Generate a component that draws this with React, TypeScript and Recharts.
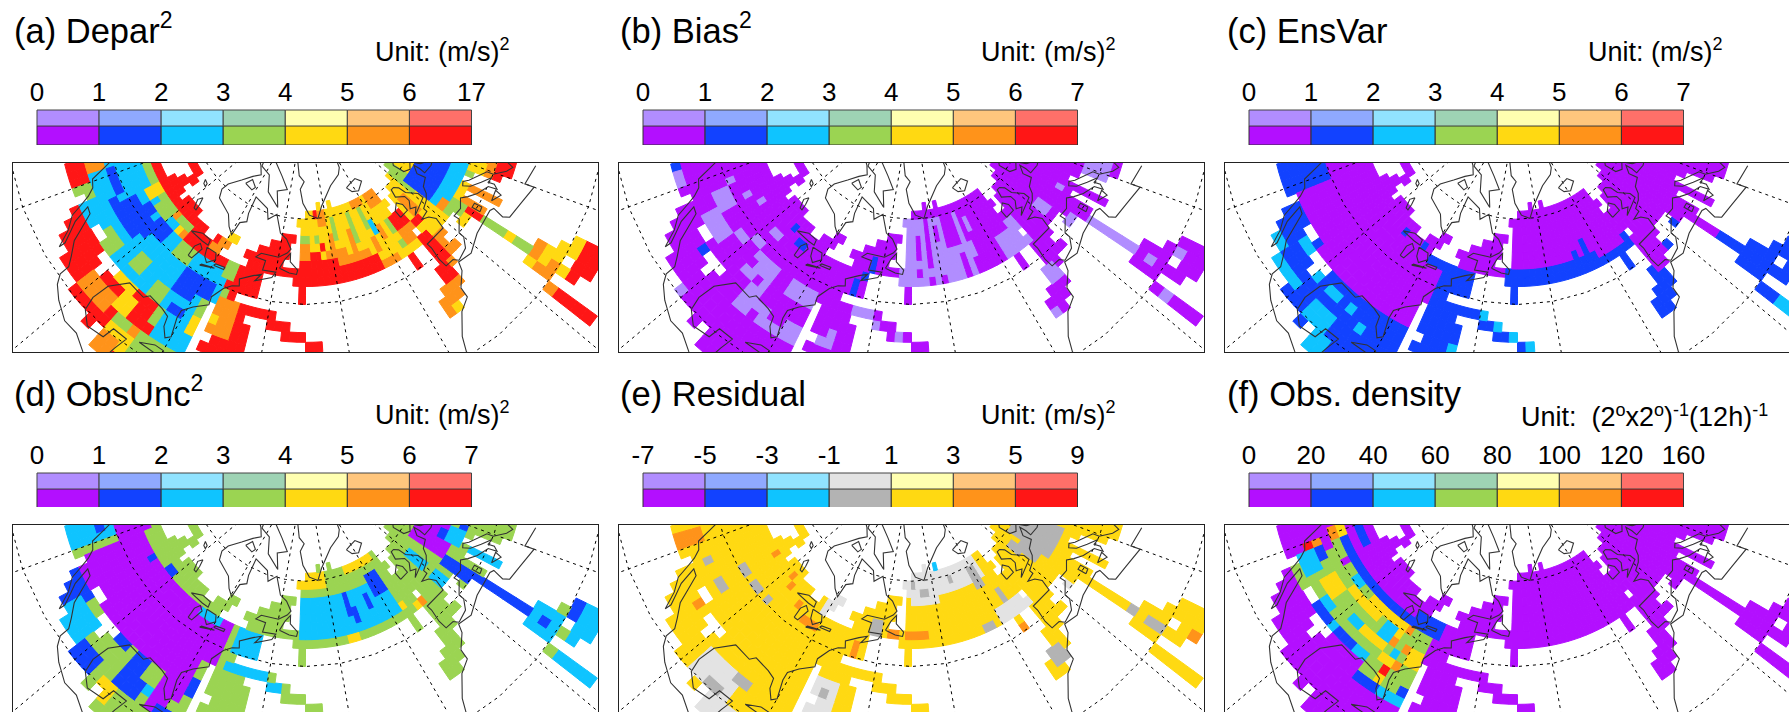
import React from 'react';
import { BarChart, Bar, XAxis, YAxis, ScatterChart, Scatter } from 'recharts';

const DARK = ['#b30fff', '#1242ff', '#0fc4ff', '#9bd452', '#ffd912', '#ff931a', '#ff1616'];
const LIGHT = ['#b18dff', '#8fa9ff', '#91e3ff', '#9ed3b4', '#ffffb0', '#ffc67d', '#ff7069'];
// cell colours: 0-6 dark row, 7 light purple, 8 mid grey, 9 light grey
const CELL_COLORS = [...DARK, '#b18dff', '#b3b3b3', '#e3e3e3'];

const TICKS_A = ['0', '1', '2', '3', '4', '5', '6', '17'];
const TICKS_B = ['0', '1', '2', '3', '4', '5', '6', '7'];
const TICKS_E = ['-7', '-5', '-3', '-1', '1', '3', '5', '9'];
const TICKS_F = ['0', '20', '40', '60', '80', '100', '120', '160'];

// observed cells: [south lat, [[west lon, east lon], ...]] on the 2 degree grid
const OBS_ROWS: [number, number[][]][] = [
  [10, [[2, 4]]],
  [12, [[2, 4]]],
  [14, [[2, 4], [8, 14]]],
  [16, [[-92, -76], [2, 4], [6, 14]]],
  [18, [[-96, -76], [2, 4], [6, 14]]],
  [20, [[-102, -76], [4, 12]]],
  [22, [[-108, -76], [4, 10]]],
  [24, [[-112, -76], [4, 10]]],
  [26, [[-114, -76], [-74, -64], [6, 8]]],
  [28, [[-116, -76], [-74, -64], [-16, -12], [6, 8]]],
  [30, [[-126, -76], [-74, -64], [-50, -46], [-16, -10], [6, 8]]],
  [32, [[-126, -76], [-74, -64], [-56, -50], [-14, -8], [6, 8]]],
  [34, [[-126, -76], [-74, -66], [-60, -54], [-12, -8], [6, 8]]],
  [36, [[-126, -58], [-12, -6], [6, 8], [12, 14], [20, 26]]],
  [38, [[-126, -70], [-10, -2], [6, 10], [12, 14], [18, 26]]],
  [40, [[-126, -64], [-52, -50], [-16, -14], [-10, -4], [2, 10], [12, 14], [18, 26]]],
  [42, [[-126, -64], [-52, -50], [-16, -14], [-10, -2], [4, 10], [12, 14], [18, 26]]],
  [44, [[-126, -64], [-54, 14], [16, 30]]],
  [46, [[-126, -80], [-70, 30]]],
  [48, [[-124, -88], [-84, -78], [-72, -56], [-52, 30]]],
  [50, [[-112, -94], [-80, -76], [-68, -56], [-52, 30]]],
  [52, [[-110, -106], [-64, -56], [-52, 30]]],
  [54, [[-108, -104], [-60, -54], [-52, -12], [-8, 30]]],
  [56, [[-116, -106], [-52, -10], [-8, 30]]],
  [58, [[-54, -12], [-6, 30]]],
  [60, [[-50, -12], [-2, 30]]],
  [62, [[-44, -42], [-38, -36], [2, 30]]],
];
const OBS_HOLES = [[30, -118], [30, -110], [30, -108], [28, -104], [28, -102], [28, -100], [26, -102], [50, -104], [18, -94], [28, -74], [48, -58], [46, -10], [18, 8]];

// [south lat, north lat, west lon, east lon, colour]; later rows paint over earlier ones
const ZONES_A = [
  [0, 90, -180, 180, 6],
  [30, 48, -120, -74, 2], [34, 48, -126, -120, 2], [34, 38, -128, -122, 5], [30, 34, -120, -116, 3],
  [44, 48, -92, -74, 6], [46, 48, -120, -100, 3], [44, 46, -106, -100, 3], [44, 48, -112, -108, 4],
  [46, 48, -100, -98, 5], [44, 46, -96, -94, 4], [44, 46, -94, -92, 5], [46, 48, -98, -92, 3],
  [38, 40, -122, -114, 1], [36, 38, -114, -102, 1], [38, 42, -112, -100, 1], [40, 44, -102, -96, 1], [42, 44, -108, -104, 1],
  [36, 40, -86, -76, 1], [34, 36, -86, -80, 1], [30, 32, -84, -80, 1],
  [30, 34, -108, -102, 3], [32, 36, -98, -94, 3], [30, 34, -90, -86, 3], [40, 44, -92, -86, 3], [42, 46, -76, -72, 3], [38, 40, -74, -72, 3],
  [48, 50, -82, -78, 5], [50, 52, -80, -76, 4], [46, 48, -84, -80, 5],
  [28, 30, -98, -92, 4], [24, 28, -94, -90, 4], [22, 26, -102, -94, 5], [22, 24, -92, -86, 3], [20, 24, -88, -84, 5],
  [24, 26, -86, -82, 6], [26, 30, -86, -84, 3], [22, 30, -84, -76, 2], [16, 24, -86, -76, 3], [28, 32, -78, -76, 4], [32, 36, -78, -76, 3],
  [18, 22, -92, -86, 4], [16, 20, -92, -88, 5],
  [30, 38, -74, -68, 5], [32, 34, -74, -72, 4],
  [44, 64, -54, -10, 4], [44, 48, -54, -24, 6], [48, 52, -54, -44, 6], [48, 50, -44, -38, 6], [50, 54, -54, -48, 5], [52, 54, -44, -42, 6],
  [48, 50, -38, -26, 5], [50, 52, -42, -34, 5], [52, 56, -40, -38, 5], [50, 56, -32, -30, 5], [48, 52, -24, -22, 5], [50, 54, -20, -18, 5],
  [54, 56, -46, -44, 3], [54, 56, -52, -48, 3], [54, 60, -38, -36, 3], [52, 60, -30, -28, 3], [54, 60, -24, -22, 3], [50, 54, -16, -14, 3],
  [46, 48, -16, -12, 3], [52, 56, -22, -20, 2], [58, 62, -18, -10, 5], [60, 62, -26, -20, 5], [58, 62, -44, -40, 5], [60, 62, -46, -44, 6], [44, 46, -24, -18, 5],
  [44, 64, -10, 30, 4], [50, 54, -14, -8, 6], [46, 50, -14, -8, 5], [50, 56, -6, -2, 5], [48, 50, -8, -4, 6],
  [42, 46, -10, -6, 6], [38, 44, -6, 0, 5], [38, 40, -8, -6, 6], [36, 38, -12, -8, 6], [36, 38, -8, -2, 5],
  [30, 34, -16, -8, 5], [28, 30, -16, -14, 5], [28, 30, -14, -12, 4], [34, 36, -12, -8, 6], [40, 44, -16, -14, 6],
  [56, 64, 0, 6, 3], [54, 56, 0, 4, 3], [50, 58, 2, 18, 1], [46, 50, 2, 20, 2], [46, 48, 2, 6, 5], [42, 46, 2, 8, 3],
  [44, 46, 10, 14, 4], [44, 46, 14, 18, 3], [42, 46, 18, 22, 4], [36, 42, 18, 26, 6], [40, 42, 18, 24, 5], [36, 44, 8, 14, 5], [42, 44, 14, 18, 6],
  [38, 42, 0, 6, 4], [36, 40, 0, 4, 5],
  [26, 38, 6, 8, 3], [30, 32, 6, 8, 4], [24, 26, 6, 10, 5], [24, 26, 4, 6, 4], [22, 24, 6, 10, 4], [20, 22, 4, 8, 5], [22, 24, 4, 6, 5],
  [18, 20, 6, 8, 4], [18, 20, 10, 14, 4], [20, 22, 8, 12, 4], [18, 20, 2, 4, 5],
];
const ZONES_B = [
  [0, 90, -180, 180, 0],
  [36, 40, -116, -110, 7], [32, 36, -112, -104, 7], [36, 38, -104, -100, 7], [30, 38, -96, -88, 7], [34, 38, -84, -76, 7], [26, 30, -92, -76, 7],
  [28, 30, -84, -80, 0], [26, 28, -88, -86, 0], [32, 34, -92, -90, 0], [34, 36, -96, -94, 0], [30, 32, -96, -92, 0],
  [20, 22, -102, -100, 7], [42, 44, -98, -94, 7], [38, 40, -100, -96, 7], [40, 42, -118, -116, 7], [44, 46, -108, -106, 7], [42, 44, -112, -110, 7],
  [30, 32, -124, -120, 7], [28, 30, -72, -68, 7], [30, 32, -70, -68, 7], [36, 38, -66, -60, 7], [34, 36, -60, -58, 7], [32, 34, -54, -52, 7],
  [44, 60, -54, -36, 7], [50, 56, -48, -46, 0], [46, 48, -48, -46, 0], [44, 46, -44, -42, 0], [52, 58, -36, -32, 0],
  [48, 60, -44, -42, 0], [44, 46, -40, -38, 0], [48, 50, -36, -34, 0], [54, 58, -40, -38, 0],
  [44, 52, -36, -26, 7], [44, 50, -32, -30, 0], [44, 48, -28, -26, 0], [52, 60, -30, -28, 7], [54, 58, -26, -24, 7], [44, 50, -18, -8, 7], [50, 52, -12, -8, 7],
  [46, 50, 0, 4, 7], [40, 42, 2, 6, 7], [26, 38, 6, 8, 7], [38, 44, 18, 24, 7], [46, 48, 10, 12, 7], [34, 38, -12, -8, 7], [28, 30, -16, -14, 7], [44, 46, -12, -8, 7],
  [22, 24, 6, 8, 7], [18, 20, 10, 12, 7], [16, 18, 2, 4, 7],
  [30, 32, -126, -124, 1], [28, 30, -106, -104, 1], [46, 48, -94, -92, 1], [44, 46, -90, -86, 1], [46, 50, -64, -62, 1], [38, 44, -68, -66, 1], [44, 46, -66, -64, 1],
];
const ZONES_C = [
  [0, 90, -180, 180, 1],
  [30, 48, -104, -74, 0], [32, 48, -118, -104, 0], [40, 48, -124, -118, 0], [48, 60, -130, -88, 0],
  [46, 50, -90, -76, 0], [50, 52, -80, -76, 0], [46, 48, -92, -90, 1], [46, 48, -84, -82, 1], [44, 46, -80, -74, 1],
  [46, 56, -72, -54, 0], [48, 64, -54, -10, 0], [46, 48, -22, -12, 0], [48, 52, -26, -24, 1], [48, 50, -30, -28, 1],
  [36, 64, -10, 30, 0], [38, 40, -4, -2, 1], [40, 42, 2, 4, 1], [44, 46, -12, -10, 1], [32, 38, 6, 8, 0],
  [10, 16, 2, 4, 2], [26, 28, -96, -92, 2], [26, 28, -90, -88, 2], [24, 26, -86, -84, 2], [20, 24, -96, -90, 2], [26, 28, -102, -98, 2],
  [22, 24, -108, -104, 2], [24, 26, -112, -108, 2], [28, 30, -108, -104, 2], [22, 24, -104, -100, 2], [16, 20, -92, -88, 2],
  [36, 38, -60, -58, 2], [34, 36, -56, -54, 2], [32, 34, -52, -50, 2], [30, 32, -48, -46, 2], [28, 30, -66, -64, 2],
];
const ZONES_D = [
  [0, 90, -180, 180, 3],
  [30, 46, -118, -74, 0], [40, 48, -124, -118, 0], [26, 30, -84, -78, 0], [22, 26, -84, -80, 0], [30, 36, -78, -74, 3], [44, 46, -110, -108, 1], [46, 48, -104, -100, 1],
  [44, 46, -86, -78, 2], [30, 40, -130, -120, 2], [36, 38, -126, -122, 1],
  [24, 30, -116, -108, 1], [26, 30, -108, -106, 3], [22, 28, -110, -102, 2], [22, 26, -102, -96, 3], [20, 24, -102, -96, 1],
  [28, 30, -100, -94, 1], [26, 30, -92, -88, 1], [22, 26, -92, -86, 1], [18, 22, -94, -90, 4], [24, 26, -86, -84, 2], [22, 24, -82, -78, 1],
  [28, 32, -78, -76, 1], [36, 38, -72, -60, 2], [34, 36, -60, -56, 2], [40, 46, -72, -64, 2],
  [46, 56, -52, -16, 2], [58, 62, -54, -40, 4], [60, 62, -30, -14, 4], [52, 58, -22, -16, 1], [48, 52, -32, -30, 1], [50, 56, -34, -32, 1], [50, 54, -26, -24, 1],
  [44, 46, -36, -32, 4], [46, 48, -16, -14, 4], [44, 46, -10, -8, 5], [44, 46, -12, -10, 4],
  [48, 58, 6, 18, 0], [50, 52, 12, 16, 1], [46, 48, 16, 20, 1], [26, 48, 4, 8, 1], [36, 44, 12, 14, 2], [50, 56, -2, 2, 2], [44, 48, -2, 2, 2], [46, 50, 12, 18, 2],
  [20, 26, 4, 10, 2], [22, 24, 6, 8, 1], [18, 20, 10, 14, 1], [16, 18, 8, 10, 3], [14, 18, 6, 14, 2], [10, 18, 2, 4, 2],
];
const ZONES_E = [
  [0, 90, -180, 180, 4],
  [30, 36, -124, -120, 5], [48, 50, -108, -106, 5], [48, 50, -98, -96, 5], [46, 48, -96, -94, 5], [28, 30, -108, -106, 5], [44, 46, -90, -88, 5], [42, 44, -86, -80, 5],
  [38, 44, -68, -66, 5], [44, 46, -64, -62, 5], [44, 48, -58, -54, 5], [46, 48, -52, -44, 5], [40, 42, -16, -14, 5], [14, 16, 8, 10, 5],
  [34, 36, -116, -114, 8], [40, 42, -110, -106, 8], [34, 36, -110, -106, 8], [40, 42, -104, -100, 8], [40, 42, -98, -96, 8],
  [20, 26, -98, -88, 9], [24, 26, -90, -88, 8], [24, 26, -88, -86, 8], [20, 22, -94, -90, 8], [16, 20, -94, -84, 9],
  [26, 34, -74, -68, 9], [30, 32, -72, -70, 8], [46, 52, -82, -76, 9], [46, 50, -64, -60, 8],
  [56, 64, -54, -16, 9], [54, 56, -50, -38, 9], [58, 60, -50, -48, 8], [56, 58, -46, -42, 8], [58, 60, -32, -30, 8], [54, 60, -22, -18, 8], [62, 64, -38, -36, 2],
  [44, 48, -20, -8, 9], [48, 52, -16, -14, 8], [46, 48, -10, -8, 8], [44, 46, -26, -22, 8],
  [48, 60, 6, 18, 8], [50, 56, 2, 6, 8], [54, 58, 0, 4, 8], [40, 42, 2, 4, 9], [26, 28, 6, 8, 8], [20, 24, 6, 8, 8], [30, 34, -14, -10, 8],
];
const ZONES_F = [
  [0, 90, -180, 180, 0],
  [30, 44, -118, -76, 3], [26, 44, -88, -76, 3],
  [42, 44, -120, -84, 1], [42, 46, -84, -74, 1], [46, 48, -124, -112, 1], [30, 32, -108, -88, 1],
  [32, 36, -118, -112, 2], [32, 34, -106, -102, 2], [30, 32, -100, -98, 2], [30, 32, -92, -88, 2], [34, 36, -98, -94, 2], [40, 42, -106, -102, 2], [36, 38, -118, -114, 1],
  [38, 40, -118, -116, 0], [40, 42, -112, -110, 0],
  [34, 36, -120, -118, 6], [36, 38, -120, -118, 5], [40, 42, -122, -118, 5], [42, 44, -122, -118, 4],
  [34, 38, -110, -104, 4], [38, 40, -104, -96, 4], [38, 42, -98, -92, 4], [40, 42, -92, -84, 4], [34, 36, -94, -86, 4], [32, 34, -86, -82, 4],
  [36, 40, -90, -86, 2], [34, 36, -84, -82, 2], [38, 40, -86, -84, 4], [36, 38, -86, -84, 5], [36, 38, -82, -80, 5], [40, 42, -84, -82, 5],
  [34, 38, -80, -76, 4], [32, 34, -82, -80, 5], [30, 32, -84, -82, 6], [28, 30, -84, -82, 4],
  [26, 28, -88, -82, 1], [26, 28, -82, -76, 2], [28, 30, -78, -76, 1],
];

// coastlines as [lon, lat] points
const COAST_NA_WEST = [[-124, 40], [-122.5, 37.8], [-120.6, 34.6], [-118.5, 34], [-117, 32.5], [-115.8, 30.5], [-114.5, 28], [-112, 26], [-109.9, 23], [-110, 24.3], [-111.3, 26], [-113, 28], [-114.7, 31.5], [-113, 31.3], [-111, 28.5], [-109.4, 26], [-107, 24], [-105.5, 22.5], [-105.3, 20.5], [-104, 19], [-101.5, 17.5], [-98, 16], [-95, 16], [-92, 14.5], [-90, 13.5]];
const COAST_NA_EAST = [[-88.5, 16], [-88, 18.5], [-87.3, 21], [-90.5, 21], [-91, 18.7], [-94.5, 18.2], [-97, 20], [-97.7, 22.5], [-97.3, 26], [-94.5, 29.5], [-90, 29.2], [-89, 30.3], [-85, 29.7], [-83, 29], [-82.5, 27], [-81, 25.2], [-80, 26], [-81, 29.7], [-81, 31.5], [-79, 33.3], [-75.7, 35.2], [-76, 37], [-74, 39.7], [-72, 41], [-70, 41.5], [-70.7, 43], [-67, 44.7], [-64.5, 45.5], [-66, 43.7], [-61, 45.3], [-60, 46.7], [-64.5, 46.5], [-64.3, 48.8], [-68, 49], [-66.5, 50.2], [-60, 50.2], [-57, 51.5], [-55.7, 52.5], [-58, 54.8], [-61, 56], [-64.5, 60.3], [-68, 58.5], [-70, 61], [-78, 62.5], [-77.5, 58], [-76.5, 56], [-79, 55], [-79.5, 51.5], [-82, 52.9], [-85, 55.3], [-92.5, 57], [-94.5, 59], [-94, 61], [-90, 64], [-86, 66.5], [-82, 68], [-86, 70], [-95, 72], [-100, 70]];
const COAST_BAFFIN = [[-65, 62], [-68, 66], [-62, 67], [-68, 70], [-78, 73], [-88, 73.5], [-85, 70], [-77, 69], [-73, 65], [-65, 62]];
const COAST_SOUTHAMPTON = [[-87, 64], [-82, 63.5], [-81, 64.5], [-85, 65.8], [-87, 64]];
const COAST_ELLESMERE = [[-80, 74.5], [-92, 74.5], [-95, 77], [-85, 78], [-75, 79], [-65, 82], [-90, 82]];
const COAST_GREENLAND = [[-73, 78.5], [-68, 76], [-58, 75], [-55, 71], [-51, 69.5], [-53.5, 67.5], [-51.5, 64], [-48, 61], [-43.8, 60], [-41, 63], [-33, 67.5], [-25, 69.5], [-22, 71], [-20, 75]];
const COAST_ICELAND = [[-24, 65.5], [-22, 64], [-18.5, 63.4], [-14, 65], [-16.5, 66.5], [-21, 66], [-24, 65.5]];
const COAST_NEWFOUNDLAND = [[-59, 47.7], [-55.5, 46.9], [-53, 46.7], [-52.7, 47.7], [-55.5, 49.5], [-55.7, 51.5], [-57.5, 50], [-59, 47.7]];
const LAKE_WINNIPEG = [[-97.6, 54.2], [-96.5, 52.5], [-96, 51], [-97, 51], [-98.5, 53], [-97.6, 54.2]];
const LAKE_REINDEER = [[-103, 57.5], [-101, 57.2], [-100.5, 56.4], [-102, 56.6], [-103, 57.5]];
const LAKE_SUPERIOR = [[-92, 46.7], [-88.5, 48], [-85, 47.8], [-84.6, 46.5], [-87, 46.5], [-92, 46.7]];
const LAKE_MICHIGAN = [[-87.8, 42], [-86.5, 42], [-85.5, 45], [-87, 45.8], [-88, 44.5], [-87.8, 42]];
const LAKE_HURON = [[-84.5, 46], [-81, 46], [-80, 44.6], [-82, 43], [-83.5, 44], [-84.5, 46]];
const LAKE_ERIE = [[-83.3, 41.7], [-79, 42.8], [-80, 42.7], [-83, 42.1], [-83.3, 41.7]];
const LAKE_ONTARIO = [[-79.7, 43.3], [-76.3, 43.5], [-76.3, 44.1], [-79.3, 43.8], [-79.7, 43.3]];
const COAST_CUBA = [[-84.9, 21.9], [-82, 23.1], [-80, 23], [-77, 20.5], [-80, 21.7], [-84.9, 21.9]];
const COAST_BRITAIN = [[-5.5, 50], [1.5, 51.5], [1.5, 53], [-1.5, 55.5], [-2, 57.5], [-3.5, 58.5], [-5, 58.5], [-6, 56.5], [-3, 55], [-3, 53.5], [-5, 52], [-3, 51.3], [-5.5, 50]];
const COAST_IRELAND = [[-10, 52], [-6.2, 52.2], [-6, 54], [-7.5, 55.3], [-10, 54], [-10, 52]];
const COAST_EUROPE = [[-5.5, 36], [-6.5, 37], [-9, 37], [-9.3, 39], [-8.8, 42], [-9, 43.3], [-2, 43.4], [-1.2, 46], [-2.5, 47.5], [-4.7, 48.3], [-1.5, 48.7], [-1.5, 49.7], [1.5, 50.5], [3.5, 51.5], [5, 53], [8.5, 53.8], [8, 56], [10.5, 57.7], [10.5, 56], [10, 54.5], [14, 54], [19, 54.5], [21, 56]];
const COAST_NORWAY = [[11, 59], [8, 58], [5.5, 59], [5, 62], [10, 64], [14, 68]];
const COAST_SWEDEN = [[11, 59], [12.5, 56.5], [14.3, 55.5], [16.5, 57]];
const COAST_MED = [[-5.5, 36], [-2, 36.8], [0, 38.7], [0, 40], [3.2, 41.9], [3, 43.2], [6, 43], [8.8, 44.3], [10.3, 43], [12.5, 41.5], [15.7, 40], [16, 38], [17, 39], [16.8, 40.4], [18.5, 40], [16, 41.8], [13.5, 43.6], [12.5, 45.2], [13.8, 45.6], [15, 44.5], [19.5, 41.5], [19.5, 40], [21.5, 37.5], [23, 36.5], [24, 38], [23, 40.5], [26, 40.8], [27, 37.5]];
const COAST_SARDINIA = [[8.3, 39], [9.7, 39.2], [9.6, 41], [8.2, 41], [8.3, 39]];
const COAST_SICILY = [[12.5, 38], [15.6, 38.2], [15, 36.7], [12.5, 38]];
const COAST_AFRICA = [[25, 32], [20, 33], [20, 31], [15, 32.3], [11, 33], [10.2, 34.3], [11, 36.8], [10, 37.3], [3, 36.9], [-2, 35.2], [-5.9, 35.8], [-6.8, 34], [-9.8, 31.5], [-10, 29.3], [-13, 27.7], [-16, 23.8], [-17, 21], [-16, 18], [-17.5, 14.7], [-15, 11], [-13, 9]];
const COASTS = [COAST_NA_WEST, COAST_NA_EAST, COAST_BAFFIN, COAST_SOUTHAMPTON, COAST_ELLESMERE, COAST_GREENLAND, COAST_ICELAND, COAST_NEWFOUNDLAND, LAKE_WINNIPEG, LAKE_REINDEER, LAKE_SUPERIOR, LAKE_MICHIGAN, LAKE_HURON, LAKE_ERIE, LAKE_ONTARIO, COAST_CUBA, COAST_BRITAIN, COAST_IRELAND, COAST_EUROPE, COAST_NORWAY, COAST_SWEDEN, COAST_MED, COAST_SARDINIA, COAST_SICILY, COAST_AFRICA];

const MERIDIANS = [-120, -100, -80, -60, -40, -20, 0, 20];
const PARALLELS = [60, 40, 20];
const PARALLEL_LONS = [-190, -170, -150, -130, -120, -110, -100, -90, -80, -70, -60, -50, -40, -30, -20, -10, 0, 10, 20, 30, 50, 70, 90];

const MAP_W = 585;
const MAP_H = 189;
const STEP_DEG = 2;

// polar stereographic, central meridian 50W
function project(lon: number, lat: number) {
  const r = 430 * Math.tan(((90 - lat) / 2) * (Math.PI / 180));
  const t = ((lon + 50) * Math.PI) / 180;
  return { x: 292.5 + r * Math.sin(t), y: -59 + r * Math.cos(t) };
}

function buildCells(zones: number[][]) {
  const holes = new Set(OBS_HOLES.map((h) => h.join('_')));
  const cells: any[] = [];
  OBS_ROWS.forEach(([lat, spans]) => {
    spans.forEach(([w, e]) => {
      for (let lon = w; lon < e; lon += STEP_DEG) {
        if (holes.has(lat + '_' + lon)) continue;
        let cat = 0;
        zones.forEach((z) => {
          if (lat >= z[0] && lat < z[1] && lon >= z[2] && lon < z[3]) cat = z[4];
        });
        const c = project(lon + 1, lat + 1);
        if (c.x < -15 || c.x > MAP_W + 15 || c.y < -15 || c.y > MAP_H + 15) continue;
        const poly = [[lon, lat], [lon + 2, lat], [lon + 2, lat + 2], [lon, lat + 2]].map(([a, b]) => {
          const p = project(a, b);
          return [p.x - c.x, p.y - c.y];
        });
        cells.push({ x: c.x, y: c.y, cat, poly });
      }
    });
  });
  return cells;
}

const CellShape = (props: any) => {
  const { cx, cy, payload } = props;
  const fill = CELL_COLORS[payload.cat];
  const pts = payload.poly.map((p: number[]) => `${cx + p[0]},${cy + p[1]}`).join(' ');
  return <polygon points={pts} fill={fill} stroke={fill} strokeWidth={1} />;
};
const NoDot = () => <g />;

const coastLines = COASTS.map((line) => line.map(([lon, lat]) => project(lon, lat)));
const meridianLines = MERIDIANS.map((lon) => [project(lon, 85), project(lon, 0)]);
const parallelLines = PARALLELS.map((lat) => PARALLEL_LONS.map((lon) => project(lon, lat)));

function MapChart({ zones }: { zones: number[][] }) {
  const cells = React.useMemo(() => buildCells(zones), [zones]);
  return (
    <ScatterChart width={MAP_W} height={MAP_H} margin={{ top: 0, right: 0, bottom: 0, left: 0 }}>
      <XAxis type="number" dataKey="x" domain={[0, MAP_W]} hide allowDataOverflow />
      <YAxis type="number" dataKey="y" domain={[0, MAP_H]} hide reversed allowDataOverflow />
      <Scatter data={cells} shape={CellShape} isAnimationActive={false} />
      {parallelLines.concat(meridianLines).map((pts, i) => (
        <Scatter key={'g' + i} data={pts} shape={NoDot} line={{ stroke: '#000', strokeWidth: 1, strokeDasharray: '3 4' }} isAnimationActive={false} />
      ))}
      {coastLines.map((pts, i) => (
        <Scatter key={'c' + i} data={pts} shape={NoDot} line={{ stroke: '#333', strokeWidth: 1.1 }} isAnimationActive={false} />
      ))}
    </ScatterChart>
  );
}

const BAR_KEYS = ['c0', 'c1', 'c2', 'c3', 'c4', 'c5', 'c6'];
const BAR_ROW = [{ row: 'r', c0: 1, c1: 1, c2: 1, c3: 1, c4: 1, c5: 1, c6: 1 }];
const BAR_W = 434.5;

function ColorBar({ ticks, gray }: { ticks: string[]; gray?: boolean }) {
  const light = gray ? LIGHT.map((c, i) => (i === 3 ? '#e3e3e3' : c)) : LIGHT;
  const dark = gray ? DARK.map((c, i) => (i === 3 ? '#b3b3b3' : c)) : DARK;
  const side = 30;
  return (
    <div>
      <BarChart width={BAR_W + side * 2} height={56} data={BAR_ROW} layout="vertical" barCategoryGap={0} margin={{ top: 0, right: side, bottom: 0, left: side }}>
        <XAxis
          type="number"
          orientation="top"
          xAxisId={0}
          height={40}
          domain={[0, 7]}
          ticks={[0, 1, 2, 3, 4, 5, 6, 7]}
          axisLine={false}
          tickLine={false}
          interval={0}
          tickMargin={3}
          tickFormatter={(v: number) => ticks[v]}
          tick={{ fill: '#000', fontSize: 26, fontFamily: 'Liberation Sans' }}
        />
        <YAxis type="category" dataKey="row" hide />
        {BAR_KEYS.map((k, i) => (
          <Bar key={k} dataKey={k} stackId="s" fill={light[i]} stroke="#444" strokeWidth={1} isAnimationActive={false} />
        ))}
      </BarChart>
      <div style={{ height: 0 }} />
      <BarChart width={BAR_W + side * 2} height={18.5} data={BAR_ROW} layout="vertical" barCategoryGap={0} margin={{ top: 0, right: side, bottom: 0, left: side }}>
        <XAxis type="number" domain={[0, 7]} hide />
        <YAxis type="category" dataKey="row" hide />
        {BAR_KEYS.map((k, i) => (
          <Bar key={k} dataKey={k} stackId="s" fill={dark[i]} stroke="#333" strokeWidth={1} isAnimationActive={false} />
        ))}
      </BarChart>
    </div>
  );
}

const TITLES = [
  { name: 'Depar', sup: '2' },
  { name: 'Bias', sup: '2' },
  { name: 'EnsVar', sup: '' },
  { name: 'ObsUnc', sup: '2' },
  { name: 'Residual', sup: '' },
  { name: 'Obs. density', sup: '' },
];
const LETTERS = ['a', 'b', 'c', 'd', 'e', 'f'];
const PANEL_ZONES = [ZONES_A, ZONES_B, ZONES_C, ZONES_D, ZONES_E, ZONES_F];
const PANEL_TICKS = [TICKS_A, TICKS_B, TICKS_B, TICKS_B, TICKS_E, TICKS_F];

function Panel({ index }: { index: number }) {
  const col = index % 3;
  const row = Math.floor(index / 3);
  const ox = col * 606.3;
  const oy = row * 362.5;
  const t = TITLES[index];
  return (
    <div style={{ position: 'absolute', left: ox, top: oy, width: 606, height: 362 }}>
      <svg width={606} height={100} style={{ position: 'absolute', left: 0, top: 0, overflow: 'visible' }} fontFamily="Liberation Sans">
        <text x={14} y={43} fontSize={34.5} fill="#000">
          ({LETTERS[index]}) {t.name}
          {t.sup && <tspan dy={-15} fontSize={23}>{t.sup}</tspan>}
        </text>
        {index < 5 ? (
          <text x={375} y={61} fontSize={27} fill="#000">
            Unit: (m/s)<tspan dy={-11} fontSize={18}>2</tspan>
          </text>
        ) : (
          <text x={308} y={63} fontSize={27} fill="#000">
            {'Unit:\u00a0\u00a0(2'}<tspan dy={-10} fontSize={18}>o</tspan><tspan dy={10}>x2</tspan><tspan dy={-10} fontSize={18}>o</tspan><tspan dy={10}>)</tspan><tspan dy={-10} fontSize={18}>-1</tspan><tspan dy={10}>(12h)</tspan><tspan dy={-10} fontSize={18}>-1</tspan>
          </text>
        )}
      </svg>
      <div style={{ position: 'absolute', left: 6.5, top: 70 }}>
        <ColorBar ticks={PANEL_TICKS[index]} gray={index === 4} />
      </div>
      <div style={{ position: 'absolute', left: 12.5, top: 162.7, width: MAP_W, height: MAP_H }}>
        <MapChart zones={PANEL_ZONES[index]} />
        <div style={{ position: 'absolute', left: -1, top: -1, width: MAP_W, height: MAP_H, border: '1.5px solid #222', pointerEvents: 'none' }} />
      </div>
    </div>
  );
}

export default function App() {
  return (
    <div style={{ position: 'absolute', left: 0, top: 0, width: 1789, height: 712, overflow: 'hidden', background: '#fff' }}>
      {PANEL_ZONES.map((_, i) => (
        <Panel key={i} index={i} />
      ))}
    </div>
  );
}
